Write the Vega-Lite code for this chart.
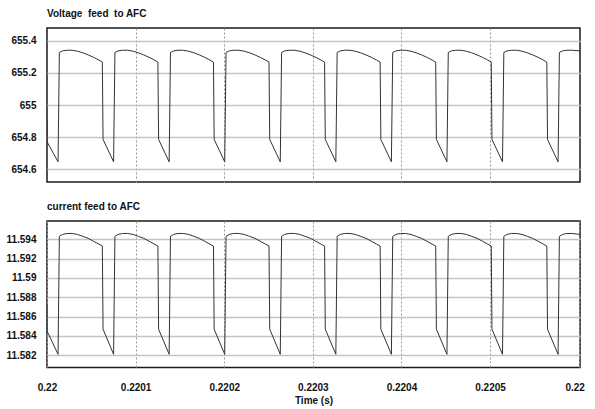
{
"$schema":"https://vega.github.io/schema/vega-lite/v6.json",
"padding":{"left":5,"top":8,"right":10,"bottom":4},
"background":"white",
"config":{
 "font":"Liberation Sans",
 "view":{"stroke":"#1a1a1a","strokeWidth":1.5},
 "axis":{"labelFont":"Liberation Sans","labelFontSize":10,"labelFontWeight":"bold","labelColor":"#111","ticks":false,"domain":false,"gridColor":"#c4c4c4","gridWidth":1.5,"titleFont":"Liberation Sans","titleFontSize":10,"titleFontWeight":"bold","titleColor":"#111"},
 "concat":{"spacing":18},
 "title":{"font":"Liberation Sans","fontSize":10,"fontWeight":"bold","anchor":"start","frame":"group","offset":9,"color":"#111"},
 "line":{"color":"#333","strokeWidth":1}
},
"data":{"values":[
{"t":0.22,"v":654.915,"i":11.5872},
{"t":0.2200001,"v":654.77,"i":11.5845},
{"t":0.22001245,"v":654.645,"i":11.5821},{"t":0.22001395,"v":655.328,"i":11.5943},{"t":0.22001745,"v":655.338,"i":11.5945},{"t":0.22002245,"v":655.342,"i":11.5946},{"t":0.22002845,"v":655.342,"i":11.5946},{"t":0.22003445,"v":655.336,"i":11.5945},{"t":0.22004045,"v":655.326,"i":11.5943},{"t":0.22004645,"v":655.313,"i":11.5941},{"t":0.22005245,"v":655.298,"i":11.5938},{"t":0.22005845,"v":655.281,"i":11.5935},{"t":0.22006245,"v":655.268,"i":11.5933},{"t":0.22006325,"v":654.785,"i":11.5847},
{"t":0.22007515,"v":654.645,"i":11.5821},{"t":0.22007665,"v":655.328,"i":11.5943},{"t":0.22008015,"v":655.338,"i":11.5945},{"t":0.22008515,"v":655.342,"i":11.5946},{"t":0.22009115,"v":655.342,"i":11.5946},{"t":0.22009715,"v":655.336,"i":11.5945},{"t":0.22010315,"v":655.326,"i":11.5943},{"t":0.22010915,"v":655.313,"i":11.5941},{"t":0.22011515,"v":655.298,"i":11.5938},{"t":0.22012115,"v":655.281,"i":11.5935},{"t":0.22012515,"v":655.268,"i":11.5933},{"t":0.22012595,"v":654.785,"i":11.5847},
{"t":0.22013785,"v":654.645,"i":11.5821},{"t":0.22013935,"v":655.328,"i":11.5943},{"t":0.22014285,"v":655.338,"i":11.5945},{"t":0.22014785,"v":655.342,"i":11.5946},{"t":0.22015385,"v":655.342,"i":11.5946},{"t":0.22015985,"v":655.336,"i":11.5945},{"t":0.22016585,"v":655.326,"i":11.5943},{"t":0.22017185,"v":655.313,"i":11.5941},{"t":0.22017785,"v":655.298,"i":11.5938},{"t":0.22018385,"v":655.281,"i":11.5935},{"t":0.22018785,"v":655.268,"i":11.5933},{"t":0.22018865,"v":654.785,"i":11.5847},
{"t":0.22020055,"v":654.645,"i":11.5821},{"t":0.22020205,"v":655.328,"i":11.5943},{"t":0.22020555,"v":655.338,"i":11.5945},{"t":0.22021055,"v":655.342,"i":11.5946},{"t":0.22021655,"v":655.342,"i":11.5946},{"t":0.22022255,"v":655.336,"i":11.5945},{"t":0.22022855,"v":655.326,"i":11.5943},{"t":0.22023455,"v":655.313,"i":11.5941},{"t":0.22024055,"v":655.298,"i":11.5938},{"t":0.22024655,"v":655.281,"i":11.5935},{"t":0.22025055,"v":655.268,"i":11.5933},{"t":0.22025135,"v":654.785,"i":11.5847},
{"t":0.22026325,"v":654.645,"i":11.5821},{"t":0.22026475,"v":655.328,"i":11.5943},{"t":0.22026825,"v":655.338,"i":11.5945},{"t":0.22027325,"v":655.342,"i":11.5946},{"t":0.22027925,"v":655.342,"i":11.5946},{"t":0.22028525,"v":655.336,"i":11.5945},{"t":0.22029125,"v":655.326,"i":11.5943},{"t":0.22029725,"v":655.313,"i":11.5941},{"t":0.22030325,"v":655.298,"i":11.5938},{"t":0.22030925,"v":655.281,"i":11.5935},{"t":0.22031325,"v":655.268,"i":11.5933},{"t":0.22031405,"v":654.785,"i":11.5847},
{"t":0.22032595,"v":654.645,"i":11.5821},{"t":0.22032745,"v":655.328,"i":11.5943},{"t":0.22033095,"v":655.338,"i":11.5945},{"t":0.22033595,"v":655.342,"i":11.5946},{"t":0.22034195,"v":655.342,"i":11.5946},{"t":0.22034795,"v":655.336,"i":11.5945},{"t":0.22035395,"v":655.326,"i":11.5943},{"t":0.22035995,"v":655.313,"i":11.5941},{"t":0.22036595,"v":655.298,"i":11.5938},{"t":0.22037195,"v":655.281,"i":11.5935},{"t":0.22037595,"v":655.268,"i":11.5933},{"t":0.22037675,"v":654.785,"i":11.5847},
{"t":0.22038865,"v":654.645,"i":11.5821},{"t":0.22039015,"v":655.328,"i":11.5943},{"t":0.22039365,"v":655.338,"i":11.5945},{"t":0.22039865,"v":655.342,"i":11.5946},{"t":0.22040465,"v":655.342,"i":11.5946},{"t":0.22041065,"v":655.336,"i":11.5945},{"t":0.22041665,"v":655.326,"i":11.5943},{"t":0.22042265,"v":655.313,"i":11.5941},{"t":0.22042865,"v":655.298,"i":11.5938},{"t":0.22043465,"v":655.281,"i":11.5935},{"t":0.22043865,"v":655.268,"i":11.5933},{"t":0.22043945,"v":654.785,"i":11.5847},
{"t":0.22045135,"v":654.645,"i":11.5821},{"t":0.22045285,"v":655.328,"i":11.5943},{"t":0.22045635,"v":655.338,"i":11.5945},{"t":0.22046135,"v":655.342,"i":11.5946},{"t":0.22046735,"v":655.342,"i":11.5946},{"t":0.22047335,"v":655.336,"i":11.5945},{"t":0.22047935,"v":655.326,"i":11.5943},{"t":0.22048535,"v":655.313,"i":11.5941},{"t":0.22049135,"v":655.298,"i":11.5938},{"t":0.22049735,"v":655.281,"i":11.5935},{"t":0.22050135,"v":655.268,"i":11.5933},{"t":0.22050215,"v":654.785,"i":11.5847},
{"t":0.22051405,"v":654.645,"i":11.5821},{"t":0.22051555,"v":655.328,"i":11.5943},{"t":0.22051905,"v":655.338,"i":11.5945},{"t":0.22052405,"v":655.342,"i":11.5946},{"t":0.22053005,"v":655.342,"i":11.5946},{"t":0.22053605,"v":655.336,"i":11.5945},{"t":0.22054205,"v":655.326,"i":11.5943},{"t":0.22054805,"v":655.313,"i":11.5941},{"t":0.22055405,"v":655.298,"i":11.5938},{"t":0.22056005,"v":655.281,"i":11.5935},{"t":0.22056405,"v":655.268,"i":11.5933},{"t":0.22056485,"v":654.785,"i":11.5847},
{"t":0.22057675,"v":654.645,"i":11.5821},{"t":0.22057825,"v":655.328,"i":11.5943},{"t":0.22058175,"v":655.338,"i":11.5945},{"t":0.22058675,"v":655.342,"i":11.5946},{"t":0.22059275,"v":655.342,"i":11.5946},{"t":0.2206015,"v":655.338,"i":11.5945}
]},
"vconcat":[
 {"width":533,"height":154,"title":"Voltage\u00a0 feed\u00a0 to AFC",
  "mark":{"type":"line","clip":true},
  "encoding":{
   "x":{"field":"t","type":"quantitative","scale":{"domain":[0.22,0.2206015],"nice":false,"zero":false},
        "axis":{"values":[0.2201,0.2202,0.2203,0.2204,0.2205],"labels":false,"title":null,"grid":true,"gridDash":[2,2],"gridWidth":1,"gridColor":"#999"}},
   "y":{"field":"v","type":"quantitative","scale":{"domain":[654.519,655.481],"nice":false,"zero":false},
        "axis":{"values":[654.6,654.8,655,655.2,655.4],"format":"~r","title":null,"labelPadding":11}}
  }},
 {"width":533,"height":146.6,"title":"current feed to AFC",
  "mark":{"type":"line","clip":true},
  "encoding":{
   "x":{"field":"t","type":"quantitative","scale":{"domain":[0.22,0.2206015],"nice":false,"zero":false},
        "axis":{"values":[0.22,0.2201,0.2202,0.2203,0.2204,0.2205,0.2206],"labelExpr":"datum.value > 0.22055 ? '0.22' : format(datum.value, '~r')","labelFlush":false,"labelPadding":15,"labelOffset":{"condition":{"test":"datum.value > 0.22055","value":-4},"value":0},"title":"Time (s)","titlePadding":3,"grid":true,"gridDash":[2,2],"gridWidth":1,"gridColor":"#999"}},
   "y":{"field":"i","type":"quantitative","scale":{"domain":[11.580725,11.59589],"nice":false,"zero":false},
        "axis":{"values":[11.582,11.584,11.586,11.588,11.59,11.592,11.594],"format":"~r","title":null,"labelPadding":11}}
  }}
]
}
